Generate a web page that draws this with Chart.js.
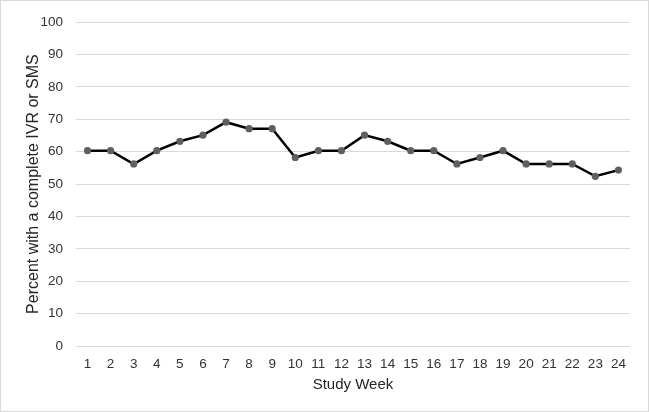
<!DOCTYPE html>
<html>
<head>
<meta charset="utf-8">
<script src="https://cdn.jsdelivr.net/npm/chart.js@4"></script>
<style>
  body { margin: 0; background: #fff; }
  #frame { width: 649px; height: 412px; box-sizing: border-box; border: 1px solid #d9d9d9; background: #fff; }
  canvas { display: block; }
</style>
</head>
<body>
<div id="frame"><canvas id="weekChart" width="647" height="410"></canvas></div>
<script>
// weeks on the x axis
const weeks = ['1', '2', '3', '4', '5', '6', '7', '8', '9', '10', '11', '12',
               '13', '14', '15', '16', '17', '18', '19', '20', '21', '22', '23', '24'];
// percent with a complete IVR or SMS
const percentComplete = [60.3, 60.3, 56.2, 60.3, 63.2, 65.1, 69.1, 67.1, 67.1, 58.2, 60.3, 60.3,
                         65.1, 63.2, 60.3, 60.3, 56.2, 58.2, 60.3, 56.2, 56.2, 56.2, 52.4, 54.3];
const yMin = 0;
const yMax = 100;
const yStep = 10;

const tickFont = { family: 'Liberation Sans, Arial, sans-serif', size: 13.5 };

const ctx = document.getElementById('weekChart').getContext('2d');
const weekChart = new Chart(ctx, {
    type: 'line',
    data: {
        labels: weeks,
        datasets: [{
            data: percentComplete,
            borderColor: '#000000',
            borderWidth: 2.5,
            pointBackgroundColor: '#5f5f5f',
            pointBorderWidth: 0,
            pointRadius: 3.6,
            tension: 0,
            fill: false
        }]
    },
    options: {
        responsive: false,
        animation: false,
        layout: {
            padding: { left: 0, right: 18, top: 14, bottom: 0 }
        },
        plugins: {
            legend: { display: false },
            tooltip: { enabled: false }
        },
        scales: {
            x: {
                offset: true,
                grid: { display: false, drawTicks: false },
                border: { display: false },
                ticks: {
                    color: '#333333',
                    font: tickFont,
                    padding: 10,
                    maxRotation: 0,
                    autoSkip: false
                },
                title: {
                    display: true,
                    text: 'Study Week',
                    color: '#262626',
                    font: { family: 'Liberation Sans, Arial, sans-serif', size: 15 },
                    padding: { top: 0, bottom: 17 }
                },
                afterFit: function(scale) {
                    scale.height = 65;
                }
            },
            y: {
                min: yMin,
                max: yMax,
                grid: { color: '#d9d9d9', lineWidth: 1, drawTicks: false },
                border: { display: false },
                ticks: {
                    stepSize: yStep,
                    color: '#333333',
                    font: tickFont,
                    padding: 13
                },
                title: {
                    display: true,
                    text: 'Percent with a complete IVR or SMS',
                    color: '#262626',
                    font: { family: 'Liberation Sans, Arial, sans-serif', size: 16 },
                    padding: { top: 23, bottom: 0 }
                },
                afterFit: function(scale) {
                    scale.width = 75;
                }
            }
        }
    }
});
</script>
</body>
</html>
